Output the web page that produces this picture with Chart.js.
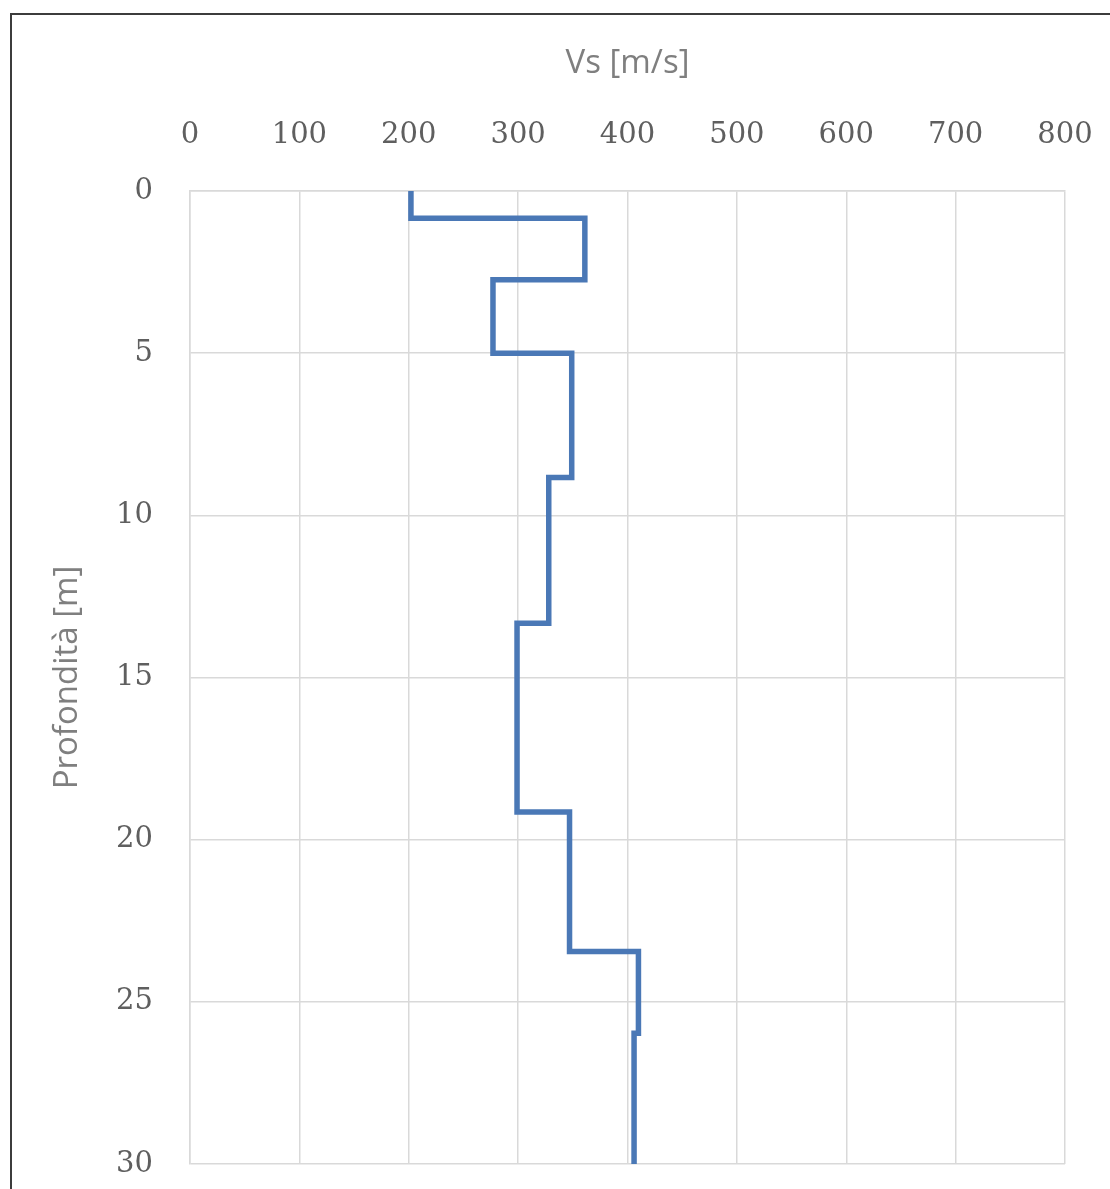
<!DOCTYPE html>
<html>
<head>
<meta charset="utf-8">
<script src="https://cdn.jsdelivr.net/npm/chart.js@4.4.1/dist/chart.umd.min.js"></script>
<style>
  html, body { margin: 0; padding: 0; background: #ffffff; }
  #wrap { position: relative; width: 1110px; height: 1189px; overflow: hidden; }
  #frame { position: absolute; left: 10px; top: 13px; width: 1300px; height: 1400px;
           border-left: 2px solid #3c3c3c; border-top: 2px solid #3c3c3c; pointer-events: none; }
  canvas { position: absolute; left: 0; top: 0; }
</style>
</head>
<body>
<div id="wrap">
  <canvas id="c" width="1110" height="1189"></canvas>
  <div id="frame"></div>
</div>
<script>
// Step profile: shear-wave velocity vs depth
const depthPoints = [0, 0.84, 0.84, 2.74, 2.74, 5.0, 5.0, 8.83, 8.83, 13.33, 13.33, 19.15, 19.15, 23.45, 23.45, 25.97, 25.97, 30];
const vsPoints    = [202, 202, 361, 361, 277, 277, 349, 349, 328, 328, 299, 299, 347, 347, 410, 410, 406, 406];
const xTitle = 'Vs [m/s]';
const yTitle = 'Profondità [m]';
const xMin = 0, xMax = 800, xStep = 100;
const yMin = 0, yMax = 30, yStep = 5;

const points = depthPoints.map((d, i) => ({ x: vsPoints[i], y: d }));

const tickFont = { family: 'DejaVu Serif', size: 29 };
const titleFont = { family: 'Open Sans', size: 33 };
const gridColor = '#d9d9d9';

new Chart(document.getElementById('c'), {
  type: 'scatter',
  data: {
    datasets: [{
      data: points,
      showLine: true,
      borderColor: '#4a78b6',
      backgroundColor: '#4a78b6',
      borderWidth: 5.5,
      pointRadius: 0,
      pointHoverRadius: 0,
      tension: 0,
      fill: false,
      borderJoinStyle: 'miter'
    }]
  },
  options: {
    responsive: false,
    animation: false,
    layout: { padding: { left: 0, top: 0, right: 45, bottom: 25 } },
    plugins: { legend: { display: false }, tooltip: { enabled: false } },
    scales: {
      x: {
        type: 'linear',
        position: 'top',
        min: xMin, max: xMax,
        ticks: { stepSize: xStep, font: tickFont, color: '#5f5f5f', padding: 38, maxRotation: 0 },
        grid: { color: gridColor, lineWidth: 1.5, drawTicks: false },
        border: { display: true, color: gridColor, width: 1.5 },
        title: { display: true, text: xTitle, font: titleFont, color: '#7f7f7f', padding: { top: 44, bottom: 0 } },
        afterFit: (s) => { s.height = 191; s.paddingLeft = 0; s.paddingRight = 0; }
      },
      y: {
        type: 'linear',
        position: 'left',
        reverse: true,
        min: yMin, max: yMax,
        ticks: { stepSize: yStep, font: tickFont, color: '#5f5f5f', padding: 37 },
        grid: { color: gridColor, lineWidth: 1.5, drawTicks: false },
        border: { display: true, color: gridColor, width: 1.5 },
        title: { display: true, text: yTitle, font: titleFont, color: '#7f7f7f', padding: { top: 48, bottom: 0 } },
        afterFit: (s) => { s.width = 190; s.paddingTop = 0; s.paddingBottom = 0; }
      }
    }
  }
});
</script>
</body>
</html>
